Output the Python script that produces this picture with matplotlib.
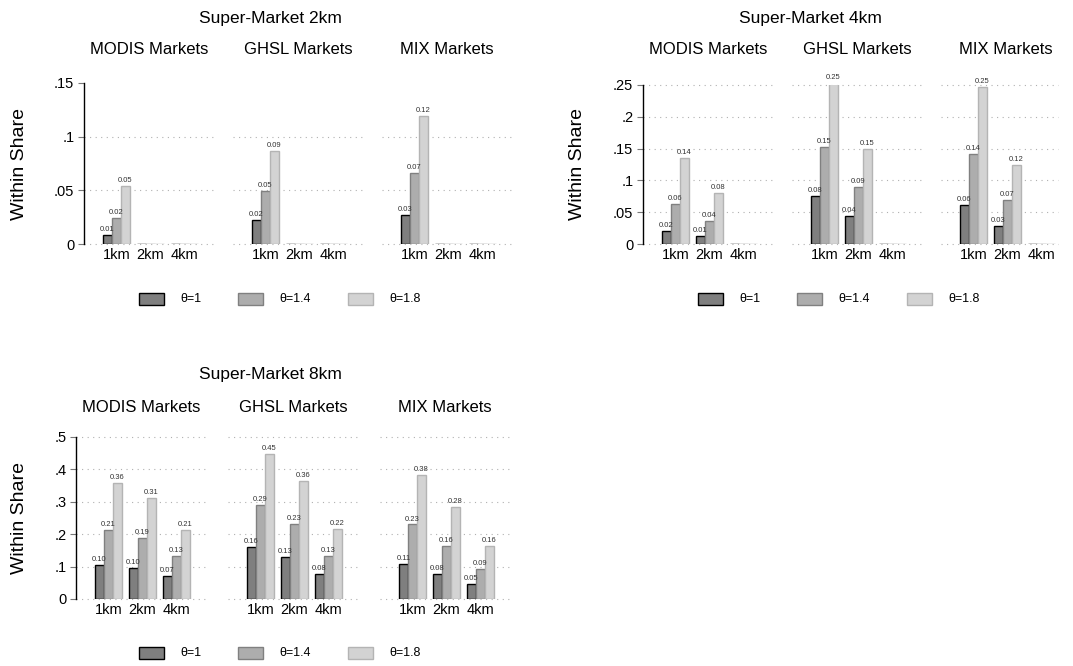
import matplotlib
matplotlib.use("Agg")
import matplotlib.pyplot as plt
from matplotlib.patches import Rectangle

plt.rcParams['font.family'] = ['Liberation Sans', 'DejaVu Sans']

# ---------------- data ----------------
groups = ["MODIS Markets", "GHSL Markets", "MIX Markets"]
distances = ["1km", "2km", "4km"]
thetas = ["θ=1", "θ=1.4", "θ=1.8"]

# Super-Market 2km: [group][distance] -> (theta1, theta1.4, theta1.8)
sm2_modis = [[0.008, 0.024, 0.054], [0, 0, 0], [0, 0, 0]]
sm2_ghsl = [[0.022, 0.049, 0.087], [0, 0, 0], [0, 0, 0]]
sm2_mix = [[0.027, 0.066, 0.119], [0, 0, 0], [0, 0, 0]]

sm4_modis = [[0.021, 0.063, 0.136], [0.012, 0.036, 0.080], [0, 0, 0]]
sm4_ghsl = [[0.076, 0.153, 0.254], [0.044, 0.089, 0.150], [0, 0, 0]]
sm4_mix = [[0.061, 0.141, 0.247], [0.029, 0.069, 0.124], [0, 0, 0]]

sm8_modis = [[0.104, 0.213, 0.359], [0.097, 0.187, 0.311], [0.072, 0.133, 0.212]]
sm8_ghsl = [[0.161, 0.289, 0.448], [0.129, 0.231, 0.364], [0.076, 0.134, 0.216]]
sm8_mix = [[0.108, 0.230, 0.384], [0.078, 0.163, 0.283], [0.046, 0.093, 0.164]]

panel_titles = ["Super-Market 2km", "Super-Market 4km", "Super-Market 8km"]
yticks_2 = [0, 0.05, 0.1, 0.15]
yticklabels_2 = ["0", ".05", ".1", ".15"]
yticks_4 = [0, 0.05, 0.1, 0.15, 0.2, 0.25]
yticklabels_4 = ["0", ".05", ".1", ".15", ".2", ".25"]
yticks_8 = [0, 0.1, 0.2, 0.3, 0.4, 0.5]
yticklabels_8 = ["0", ".1", ".2", ".3", ".4", ".5"]

# ---------------- style ----------------
W, H = 1073, 666
fig = plt.figure(figsize=(W / 100, H / 100), dpi=100)
fill_colors = ["#7f7f7f", "#adadad", "#d3d3d3"]
edge_colors = ["#000000", "#808080", "#b4b4b4"]
bw = 0.26
PX_PER_UNIT = 34.0


def ax_at(x0, y_top, w, h):
    return fig.add_axes([x0 / W, 1 - (y_top + h) / H, w / W, h / H])


def draw_panel(data, title, yticks, yticklabels, lefts, widths, y_top, y_bot,
               title_xy, sub_y, ylab_x, leg_y, leg_x0, grid_top=True):
    h = y_bot - y_top
    ymax = yticks[-1]
    for i, (gname, gdata) in enumerate(zip(groups, data)):
        w = widths[i]
        ax = ax_at(lefts[i], y_top, w, h)
        ax.set_xlim(-0.95, -0.95 + w / PX_PER_UNIT)
        ax.set_ylim(0, ymax)
        for s in ax.spines.values():
            s.set_visible(False)
        gl = yticks if grid_top else yticks[:-1]
        for yv in gl:
            ax.axhline(yv, color="#b0b0b0", lw=0.8, ls=(0, (1, 4)), zorder=0, clip_on=False)
        for d in range(3):
            for t in range(3):
                v = gdata[d][t]
                xc = d + (t - 1) * bw
                ax.bar(xc, v, width=bw, color=fill_colors[t], edgecolor=edge_colors[t],
                       linewidth=1.0, zorder=2)
                if v > 0:
                    ax.text(xc, v + ymax * 0.012, f"{v:.2f}", ha="center", va="bottom",
                            fontsize=5.5, color="#333333", clip_on=False)
        ax.set_xticks(range(3))
        ax.set_xticklabels(distances, fontsize=10.5)
        ax.tick_params(axis="x", length=0, pad=3)
        if i == 0:
            ax.spines["left"].set_visible(True)
            ax.spines["left"].set_linewidth(1.0)
            ax.set_yticks(yticks)
            ax.set_yticklabels(yticklabels, fontsize=10.5)
            ax.tick_params(axis="y", length=4, width=0.8, color="#777777", pad=3)
        else:
            ax.set_yticks([])
        ax.set_facecolor("none")
        cx = (lefts[i] + 65) / W
        fig.text(cx, 1 - sub_y / H, gname, ha="center", va="center", fontsize=12)
    fig.text(title_xy[0] / W, 1 - title_xy[1] / H, title, ha="center", va="center",
             fontsize=12.5)
    fig.text(ylab_x / W, 1 - ((y_top + y_bot) / 2) / H, "Within Share", rotation=90,
             ha="center", va="center", fontsize=14)
    # legend
    offsets = [0, 99, 209]
    toff = 16
    for t in range(3):
        bx = leg_x0 + offsets[t]
        fig.patches.append(Rectangle((bx / W, 1 - (leg_y + 6) / H), 25 / W, 12 / H,
                                     transform=fig.transFigure, facecolor=fill_colors[t],
                                     edgecolor=edge_colors[t], linewidth=1.0))
        fig.text((bx + 25 + toff) / W, 1 - leg_y / H, thetas[t], ha="left", va="center",
                 fontsize=9)


draw_panel([sm2_modis, sm2_ghsl, sm2_mix], panel_titles[0], yticks_2, yticklabels_2,
           [84, 233, 382], [130, 130, 130], 83, 244, (270, 18), 50, 20, 299, 139,
           grid_top=False)
draw_panel([sm4_modis, sm4_ghsl, sm4_mix], panel_titles[1], yticks_4, yticklabels_4,
           [643, 792, 941], [130, 130, 117], 85, 244, (810, 18), 50, 578, 299, 698)
draw_panel([sm8_modis, sm8_ghsl, sm8_mix], panel_titles[2], yticks_8, yticklabels_8,
           [76, 228, 380], [132, 132, 132], 437, 599, (270, 375), 408, 20, 653, 139)

fig.savefig("out.png", dpi=100, facecolor="white")
